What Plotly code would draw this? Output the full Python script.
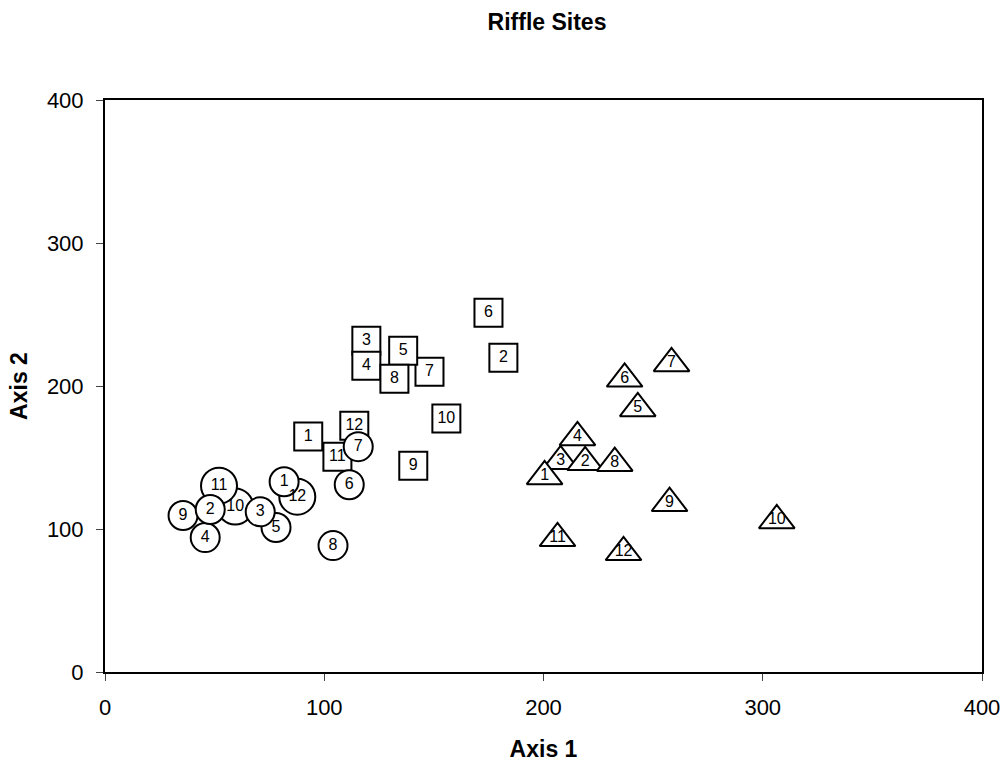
import plotly.graph_objects as go

# Ordination scores for the riffle sites (Axis 1, Axis 2), one group per marker shape.
# Points are listed in drawing order (later points are drawn over earlier ones).
square_labels = ["7", "3", "4", "5", "8", "11", "1", "12", "10", "9", "6", "2"]
square_x = [148.0, 119.2, 119.2, 136.0, 132.0, 106.0, 92.7, 113.7, 155.7, 140.6, 174.9, 181.7]
square_y = [210.0, 231.7, 214.2, 224.7, 205.0, 150.6, 164.6, 172.2, 177.2, 144.3, 251.2, 219.8]

circle_labels = ["10", "9", "4", "11", "2", "5", "3", "12", "1", "6", "8", "7"]
circle_x = [59.4, 35.6, 45.7, 52.0, 48.0, 78.0, 70.8, 87.7, 81.7, 111.4, 104.0, 115.5]
circle_y = [115.7, 109.4, 94.0, 130.3, 113.6, 101.0, 112.0, 122.6, 133.0, 131.0, 88.4, 157.6]

triangle_labels = ["3", "2", "4", "1", "8", "6", "5", "7", "9", "11", "12", "10"]
triangle_x = [207.8, 219.0, 215.5, 200.5, 232.5, 237.0, 243.0, 258.4, 257.5, 206.4, 236.5, 306.4]
triangle_y = [147.3, 146.6, 164.0, 136.8, 146.0, 205.0, 184.3, 215.8, 118.0, 93.5, 83.7, 106.0]

axis_ticks = [0, 100, 200, 300, 400]

FONT = "Liberation Sans, Arial, sans-serif"


def site_trace(xs, ys, labels, symbol, size_single, size_double):
    sizes = [size_double if len(t) > 1 else size_single for t in labels]
    return go.Scatter(
        x=xs,
        y=ys,
        mode="markers+text",
        text=labels,
        textposition="middle center",
        textfont=dict(family=FONT, size=16, color="black"),
        marker=dict(
            symbol=symbol,
            size=sizes,
            color="white",
            opacity=1,
            line=dict(color="black", width=2),
        ),
        hoverinfo="x+y+text",
        showlegend=False,
        cliponaxis=False,
    )


fig = go.Figure()
fig.add_trace(site_trace(square_x, square_y, square_labels, "square", 28, 28))
fig.add_trace(site_trace(circle_x, circle_y, circle_labels, "circle", 29, 36))
fig.add_trace(site_trace(triangle_x, triangle_y, triangle_labels, "triangle-up", 31, 31))

axis_common = dict(
    range=[0, 400],
    tickvals=axis_ticks,
    ticktext=[str(v) for v in axis_ticks],
    showgrid=False,
    zeroline=False,
    showline=True,
    linecolor="black",
    linewidth=2,
    mirror=True,
    ticks="outside",
    ticklen=7,
    tickwidth=1,
    tickcolor="#444",
    tickfont=dict(family=FONT, size=22, color="black"),
    automargin=False,
)

fig.update_layout(
    width=1008,
    height=763,
    margin=dict(l=105, r=26, t=100, b=91),
    paper_bgcolor="white",
    plot_bgcolor="white",
    title=dict(
        text="<b>Riffle Sites</b>",
        font=dict(family=FONT, size=23, color="black"),
        xref="container",
        yref="container",
        x=547 / 1008,
        y=1 - 22 / 763,
        xanchor="center",
        yanchor="middle",
    ),
    xaxis=dict(
        **axis_common,
        ticklabelstandoff=8,
        title=dict(
            text="<b>Axis 1</b>",
            font=dict(family=FONT, size=23, color="black"),
            standoff=21,
        ),
    ),
    yaxis=dict(
        **axis_common,
        ticklabelstandoff=8,
        title=dict(
            text="<b>Axis 2</b>",
            font=dict(family=FONT, size=23, color="black"),
            standoff=13,
        ),
    ),
)

fig.write_html("out.html")
